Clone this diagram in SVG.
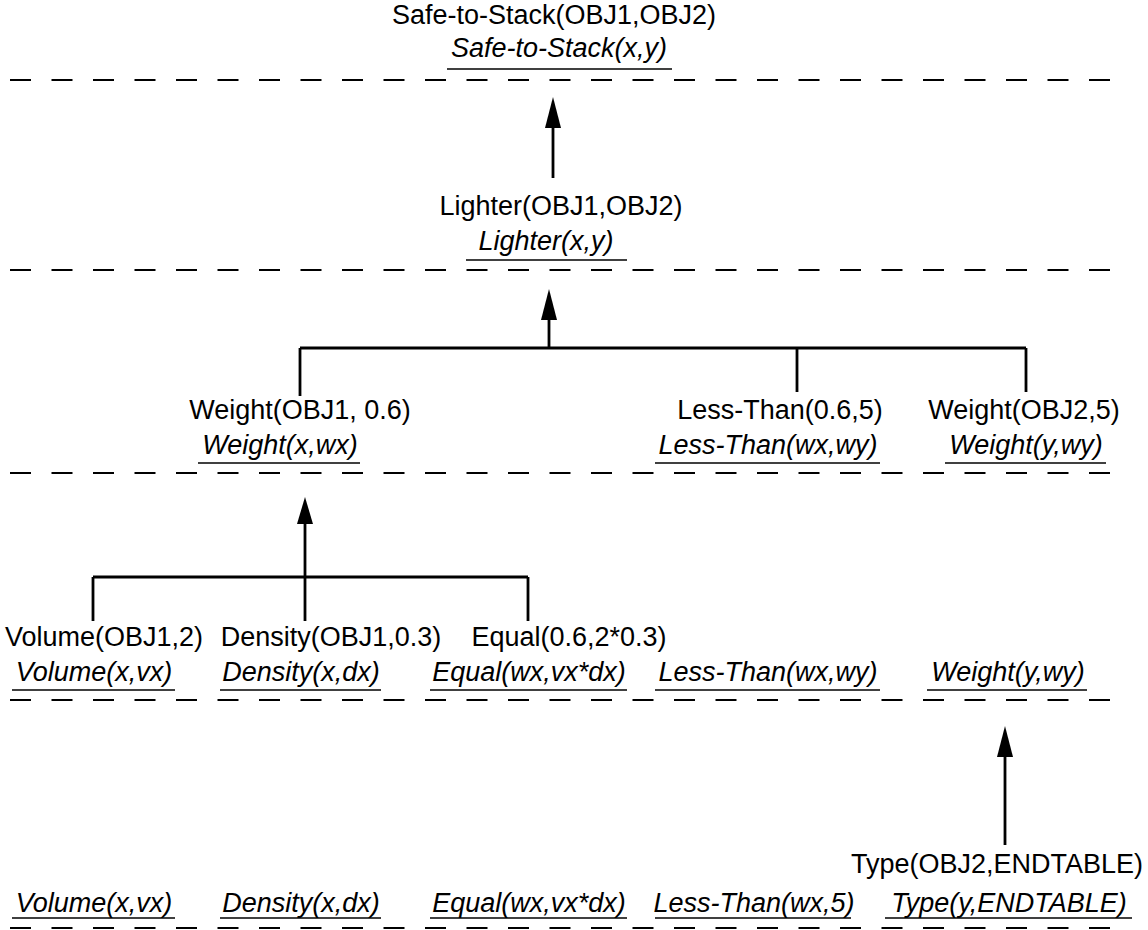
<svg xmlns="http://www.w3.org/2000/svg" width="1148" height="930" viewBox="0 0 1148 930">
<style>
text{font-family:"Liberation Sans",Arial,sans-serif;font-size:27px;fill:#000;text-anchor:middle}
.i{font-style:italic}
.ul{stroke:#000;stroke-width:1.6}
.dash{stroke:#000;stroke-width:2.2;stroke-dasharray:21 20.5;fill:none}
.c{stroke:#000;stroke-width:2.8;fill:none}
.ah{fill:#000}
</style>
<rect width="1148" height="930" fill="#fff"/>
<g id="levels">
<line class="dash" x1="10" y1="80" x2="1112" y2="80"/>
<line class="dash" x1="10" y1="270" x2="1112" y2="270"/>
<line class="dash" x1="10" y1="473" x2="1112" y2="473"/>
<line class="dash" x1="10" y1="700" x2="1112" y2="700"/>
<line class="dash" x1="10" y1="928" x2="1112" y2="928"/>
</g>
<g id="n-safe">
<text x="554" y="24">Safe-to-Stack(OBJ1,OBJ2)</text>
<text class="i" x="559" y="57">Safe-to-Stack(x,y)</text>
<line class="ul" x1="447" y1="69" x2="672" y2="69"/>
</g>
<g id="n-lighter">
<text x="561" y="215">Lighter(OBJ1,OBJ2)</text>
<text class="i" x="546" y="250">Lighter(x,y)</text>
<line class="ul" x1="466" y1="260" x2="627" y2="260"/>
</g>
<g id="n-weight1">
<text x="300" y="419">Weight(OBJ1, 0.6)</text>
<text class="i" x="280" y="454">Weight(x,wx)</text>
<line class="ul" x1="198" y1="463" x2="360" y2="463"/>
</g>
<g id="n-lessthan">
<text x="780" y="419">Less-Than(0.6,5)</text>
<text class="i" x="768" y="454">Less-Than(wx,wy)</text>
<line class="ul" x1="655" y1="463" x2="880" y2="463"/>
</g>
<g id="n-weight2">
<text x="1024" y="419">Weight(OBJ2,5)</text>
<text class="i" x="1026" y="454">Weight(y,wy)</text>
<line class="ul" x1="945" y1="463" x2="1106" y2="463"/>
</g>
<g id="n-volume">
<text x="104" y="646">Volume(OBJ1,2)</text>
<text class="i" x="94" y="681">Volume(x,vx)</text>
<line class="ul" x1="12" y1="690" x2="175" y2="690"/>
</g>
<g id="n-density">
<text x="331" y="646">Density(OBJ1,0.3)</text>
<text class="i" x="301" y="681">Density(x,dx)</text>
<line class="ul" x1="220" y1="690" x2="381" y2="690"/>
</g>
<g id="n-equal">
<text x="569" y="646">Equal(0.6,2*0.3)</text>
<text class="i" x="529" y="681">Equal(wx,vx*dx)</text>
<line class="ul" x1="430" y1="690" x2="627" y2="690"/>
</g>
<g id="n-lessthan2">
<text class="i" x="768" y="681">Less-Than(wx,wy)</text>
<line class="ul" x1="655" y1="690" x2="880" y2="690"/>
</g>
<g id="n-weight3">
<text class="i" x="1008" y="681">Weight(y,wy)</text>
<line class="ul" x1="927" y1="690" x2="1087" y2="690"/>
</g>
<g id="n-volume2">
<text class="i" x="94" y="912">Volume(x,vx)</text>
<line class="ul" x1="12" y1="918" x2="175" y2="918"/>
</g>
<g id="n-density2">
<text class="i" x="301" y="912">Density(x,dx)</text>
<line class="ul" x1="220" y1="918" x2="381" y2="918"/>
</g>
<g id="n-equal2">
<text class="i" x="529" y="912">Equal(wx,vx*dx)</text>
<line class="ul" x1="430" y1="918" x2="627" y2="918"/>
</g>
<g id="n-lessthan3">
<text class="i" x="754" y="912">Less-Than(wx,5)</text>
<line class="ul" x1="655" y1="918" x2="851" y2="918"/>
</g>
<g id="n-type">
<text x="997" y="873">Type(OBJ2,ENDTABLE)</text>
<text class="i" x="1009" y="912">Type(y,ENDTABLE)</text>
<line class="ul" x1="885" y1="918" x2="1132" y2="918"/>
</g>
<g id="connectors">
<line class="c" x1="553" y1="178" x2="553" y2="124"/>
<polygon class="ah" points="553,97 545,128 561,128"/>
<line class="c" x1="549" y1="348" x2="549" y2="316"/>
<polygon class="ah" points="549,289 541,320 557,320"/>
<line class="c" x1="300" y1="348" x2="1026" y2="348"/>
<line class="c" x1="300" y1="348" x2="300" y2="396"/>
<line class="c" x1="797" y1="348" x2="797" y2="392"/>
<line class="c" x1="1026" y1="348" x2="1026" y2="392"/>
<line class="c" x1="305" y1="621" x2="305" y2="520"/>
<polygon class="ah" points="305,497 297,524 313,524"/>
<line class="c" x1="93" y1="577" x2="528" y2="577"/>
<line class="c" x1="93" y1="577" x2="93" y2="621"/>
<line class="c" x1="528" y1="577" x2="528" y2="621"/>
<line class="c" x1="1005" y1="845" x2="1005" y2="752"/>
<polygon class="ah" points="1005,726 997,757 1013,757"/>
</g>
</svg>
